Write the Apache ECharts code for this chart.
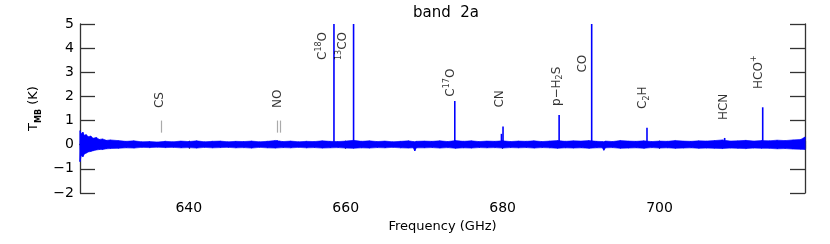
<!DOCTYPE html>
<html>
<head>
<meta charset="utf-8">
<script src="https://cdn.jsdelivr.net/npm/echarts@6/dist/echarts.min.js"></script>
<style>html,body{margin:0;padding:0;background:#fff}#c{width:830px;height:244px}</style>
</head>
<body>
<div id="c"></div>
<script>
const xMin = 626.13, xMax = 718.54;
const yMin = -2, yMax = 5;
const noiseFreq = [626.13, 626.3, 626.5, 626.7, 626.9, 627.2, 627.5, 627.8, 628.2, 628.6, 629, 629.5, 630,
  631, 632, 633, 634, 635, 636, 637, 638, 639, 640, 641, 642, 643, 644, 645, 646, 647, 648, 649, 650,
  651, 652, 653, 654, 655, 656, 657, 658, 659, 660, 661, 662, 663, 664, 665, 666, 667, 668, 668.6, 668.8, 669, 670,
  671, 672, 673, 674, 675, 676, 677, 678, 679, 680, 681, 682, 683, 684, 685, 686, 687, 688, 689, 690,
  691, 692, 692.7, 692.9, 693.1, 694, 695, 696, 697, 698, 699, 700, 701, 702, 703, 704, 705, 706, 707, 708, 709, 710,
  711, 712, 713, 714, 715, 716, 717, 718, 718.54];
const noiseHi = [0.58, 0.45, 0.52, 0.38, 0.42, 0.33, 0.36, 0.27, 0.30, 0.22, 0.24, 0.18, 0.20,
  0.17, 0.14, 0.16, 0.12, 0.13, 0.11, 0.14, 0.12, 0.15, 0.13, 0.16, 0.12, 0.14, 0.15, 0.12, 0.14, 0.13, 0.15, 0.12, 0.14,
  0.17, 0.13, 0.15, 0.12, 0.14, 0.13, 0.16, 0.14, 0.13, 0.15, 0.18, 0.14, 0.16, 0.13, 0.15, 0.12, 0.14, 0.16, 0.13, 0.12, 0.14, 0.15,
  0.14, 0.16, 0.13, 0.17, 0.14, 0.16, 0.13, 0.15, 0.14, 0.16, 0.13, 0.15, 0.14, 0.16, 0.13, 0.15, 0.17, 0.14, 0.16, 0.15,
  0.17, 0.14, 0.13, 0.12, 0.15, 0.13, 0.17, 0.15, 0.14, 0.16, 0.13, 0.15, 0.14, 0.17, 0.15, 0.14, 0.16, 0.15, 0.17, 0.20, 0.15, 0.16,
  0.18, 0.15, 0.17, 0.16, 0.19, 0.17, 0.20, 0.22, 0.32];
const noiseLo = [-0.70, -0.45, -0.50, -0.38, -0.35, -0.30, -0.28, -0.25, -0.22, -0.20, -0.20, -0.17, -0.16,
  -0.15, -0.13, -0.14, -0.11, -0.12, -0.10, -0.12, -0.11, -0.13, -0.12, -0.14, -0.11, -0.13, -0.12, -0.11, -0.13, -0.12, -0.14, -0.11, -0.13,
  -0.14, -0.12, -0.13, -0.11, -0.13, -0.12, -0.14, -0.13, -0.12, -0.14, -0.15, -0.13, -0.14, -0.12, -0.13, -0.11, -0.13, -0.14, -0.13, -0.26, -0.13, -0.13,
  -0.12, -0.14, -0.12, -0.15, -0.13, -0.14, -0.12, -0.13, -0.12, -0.14, -0.12, -0.13, -0.12, -0.14, -0.12, -0.13, -0.15, -0.13, -0.14, -0.13,
  -0.15, -0.13, -0.13, -0.23, -0.13, -0.12, -0.15, -0.14, -0.13, -0.15, -0.12, -0.14, -0.13, -0.15, -0.14, -0.13, -0.15, -0.14, -0.15, -0.16, -0.14, -0.15,
  -0.16, -0.14, -0.15, -0.15, -0.17, -0.16, -0.18, -0.19, -0.20];
const lineFreq = [651.25, 651.55, 658.5, 661.0, 673.9, 679.85, 680.05, 687.2, 691.35, 698.4, 708.3, 713.15];
const linePeak = [0.18, 0.16, 9.0, 12.0, 1.81, 0.45, 0.75, 1.23, 20.0, 0.70, 0.28, 1.55];
const markerFreq = [636.5, 651.3, 651.6];
const markerLo = [0.5, 0.5, 0.5];
const markerHi = [1.0, 1.0, 1.0];
const labelText = ['CS', 'NO', 'C{sup|18}O', '{sup|13}CO', 'C{sup|17}O', 'CN', 'p\u2212H{sub|2}S', 'CO', 'C{sub|2}H', 'HCN', 'HCO{sup|+}'];
const labelFreq = [636.3, 651.3, 657.1, 659.6, 673.4, 679.6, 686.85, 690.2, 697.9, 708.2, 712.6];
const labelY = [1.52, 1.52, 3.51, 3.51, 1.99, 1.54, 1.60, 2.99, 1.48, 1.02, 2.31];

const FONT = 'DejaVu Sans';
const AX = '#333';
const BLUE = '#0000ff';

const spikes = lineFreq.map((f, i) => [f, linePeak[i]]);
const labels = labelText.map((t, i) => ({ value: [labelFreq[i], labelY[i]], txt: t }));
const markerLines = markerFreq.map((f, i) => [{ coord: [f, markerLo[i]] }, { coord: [f, markerHi[i]] }]);
const zig = [];
noiseFreq.forEach((f, i) => { zig.push([f, noiseHi[i]]); zig.push([f, noiseLo[i]]); });

function xAxisDef(pos, showLabel, name) {
  return {
    type: 'value', position: pos, min: xMin, max: xMax, splitNumber: 5,
    axisLine: { show: true, lineStyle: { color: AX, width: 1.3 } },
    axisTick: { show: true, inside: true, length: 4, lineStyle: { color: AX, width: 1.2 } },
    minorTick: { show: true, splitNumber: 4, length: 2.5, lineStyle: { color: AX, width: 1 } },
    axisLabel: { show: showLabel, showMinLabel: false, showMaxLabel: false, margin: 8, color: '#000', fontFamily: FONT, fontSize: 14 },
    splitLine: { show: false },
    name: name || '', nameLocation: 'middle', nameGap: 27,
    nameTextStyle: { color: '#000', fontFamily: FONT, fontSize: 13 }
  };
}
function yAxisDef(pos, showLabel, name) {
  return {
    type: 'value', position: pos, min: yMin, max: yMax, interval: 1,
    axisLine: { show: true, lineStyle: { color: AX, width: 1.3 } },
    axisTick: { show: true, inside: true, length: 15, lineStyle: { color: AX, width: 1.3 } },
    axisLabel: { show: showLabel, margin: 6, color: '#000', fontFamily: FONT, fontSize: 14,
      formatter: v => String(v).replace('-', '\u2212') },
    splitLine: { show: false },
    name: name || '', nameLocation: 'middle', nameGap: 32, nameRotate: 90,
    nameTextStyle: { color: '#000', fontFamily: FONT, fontSize: 13, lineHeight: 18,
      rich: { sub: { fontFamily: FONT, fontSize: 8, fontWeight: 'bold', verticalAlign: 'bottom', lineHeight: 18 } } }
  };
}

const chart = echarts.init(document.getElementById('c'), null, { renderer: 'canvas' });
chart.setOption({
  animation: false,
  backgroundColor: '#fff',
  title: { text: 'band  2a', left: 441, top: 1, textAlign: 'center',
    textStyle: { fontFamily: FONT, fontSize: 15, fontWeight: 'normal', color: '#000' } },
  grid: { left: 80, right: 25, top: 24, bottom: 51, containLabel: false },
  xAxis: [ xAxisDef('bottom', true, 'Frequency (GHz)'), xAxisDef('top', false) ],
  yAxis: [ yAxisDef('left', true, 'T{sub|MB} (K)'), yAxisDef('right', false) ],
  series: [
    { type: 'custom', silent: true, z: 3, data: [0],
      renderItem: function (params, api) {
        const pts = [];
        for (let i = 0; i < noiseFreq.length; i++) pts.push(api.coord([noiseFreq[i], noiseHi[i]]));
        for (let i = noiseFreq.length - 1; i >= 0; i--) pts.push(api.coord([noiseFreq[i], noiseLo[i]]));
        return { type: 'polygon', shape: { points: pts }, style: { fill: BLUE, stroke: BLUE, lineWidth: 0.6 } };
      } },
    { type: 'line', data: zig, symbol: 'none', silent: true,
      lineStyle: { color: BLUE, width: 0.8 }, z: 3 },
    { type: 'bar', data: spikes, barWidth: 1.6, clip: true, silent: true,
      itemStyle: { color: BLUE }, z: 4 },
    { type: 'scatter', data: [], symbolSize: 0, silent: true,
      markLine: { silent: true, symbol: ['none', 'none'], label: { show: false },
        lineStyle: { color: '#aaaaaa', type: 'solid', width: 1.2 }, data: markerLines } },
    { type: 'scatter', data: labels, symbolSize: 0, silent: true, z: 5,
      label: { show: true, position: 'inside', rotate: 90, align: 'left', verticalAlign: 'middle',
        formatter: p => p.data.txt, color: '#000', fontFamily: FONT, fontSize: 12, lineHeight: 16,
        rich: {
          sup: { fontFamily: FONT, fontSize: 8, verticalAlign: 'top', lineHeight: 16 },
          sub: { fontFamily: FONT, fontSize: 8, verticalAlign: 'bottom', lineHeight: 16 }
        } } }
  ]
});
</script>
</body>
</html>
